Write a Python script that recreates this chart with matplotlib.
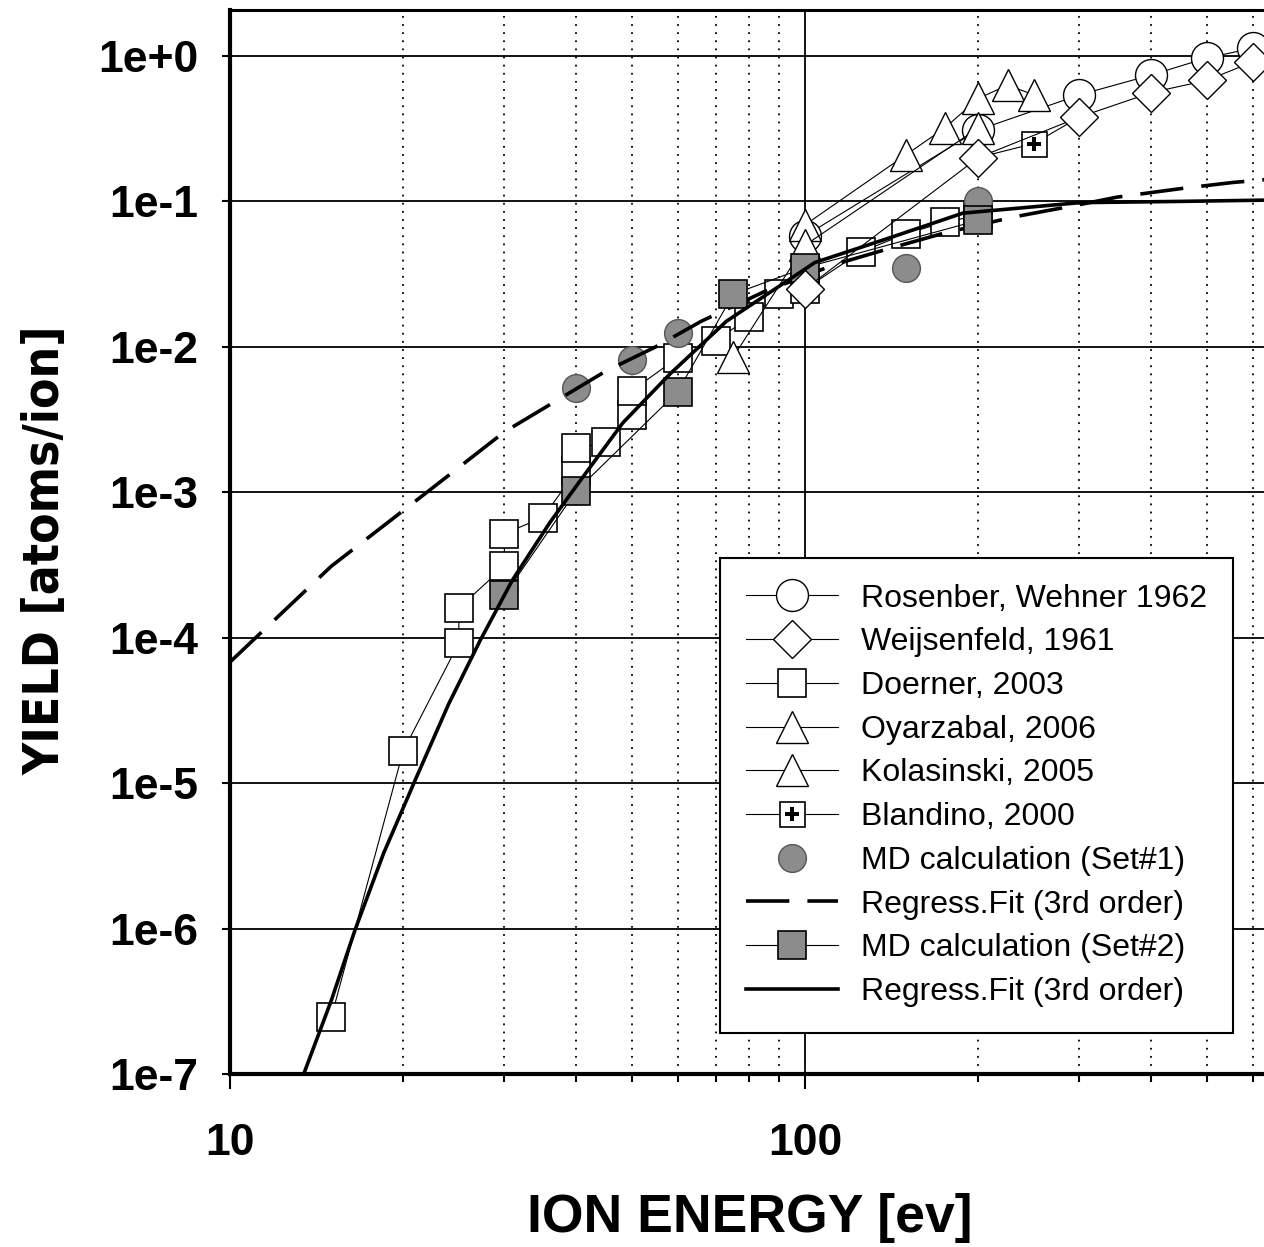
import matplotlib
matplotlib.use("Agg")
import matplotlib.pyplot as plt
from matplotlib import font_manager as fm
from matplotlib.legend_handler import HandlerTuple
from matplotlib.ticker import FixedLocator, NullFormatter

plt.rcParams['font.family'] = ['Liberation Sans', 'DejaVu Sans']

e_rosenberg = [100, 200, 300, 400, 500, 600]
y_rosenberg = [0.058, 0.31, 0.54, 0.74, 0.97, 1.13]

e_weijsenfeld = [100, 200, 300, 400, 500, 600]
y_weijsenfeld = [0.025, 0.20, 0.38, 0.56, 0.68, 0.91]

e_doerner = [15, 20, 25, 25, 30, 30, 35, 40, 40, 45, 50, 50, 60, 70, 80, 90, 100, 125, 150, 175, 200]
y_doerner = [2.45e-7, 1.66e-5, 9.2e-5, 1.6e-4, 3.1e-4, 5.2e-4, 6.7e-4, 1.4e-3, 2.0e-3, 2.2e-3,
             3.4e-3, 5.0e-3, 8.4e-3, 0.011, 0.016, 0.023, 0.025, 0.045, 0.060, 0.072, 0.080]

e_oyarzabal = [100, 150, 175, 200, 225, 250]
y_oyarzabal = [0.069, 0.21, 0.32, 0.51, 0.63, 0.54]

e_kolasinski = [75, 100, 200]
y_kolasinski = [0.0085, 0.05, 0.32]

# only the 250 eV marker is visible, the others sit behind the diamonds
e_blandino = [200, 250, 300]
y_blandino = [0.20, 0.25, 0.38]

e_md1 = [40, 50, 60, 150, 200]
y_md1 = [0.0052, 0.0081, 0.0125, 0.035, 0.10]

e_md2 = [30, 40, 60, 75, 100, 200]
y_md2 = [1.96e-4, 1.02e-3, 4.9e-3, 0.023, 0.035, 0.074]

# regression curves, sampled along the drawn lines
e_fit1 = [10, 15, 22, 30, 45, 55, 66, 85, 113, 139, 173, 230, 300, 349, 454, 555, 630]
y_fit1 = [6.8e-5, 3.1e-4, 1.0e-3, 2.6e-3, 6.8e-3, 1.0e-2, 1.5e-2, 2.4e-2, 3.7e-2, 4.7e-2,
          6.0e-2, 7.8e-2, 9.5e-2, 0.107, 0.123, 0.135, 0.141]

e_fit2 = [13.3, 15, 16.5, 18.5, 21.1, 24, 27.2, 31, 36, 41, 48.2, 58.2, 73, 104, 140, 188, 300, 450, 630]
y_fit2 = [9e-8, 3.2e-7, 9.8e-7, 3.3e-6, 1.1e-5, 3.5e-5, 9.5e-5, 2.5e-4, 6.2e-4, 1.26e-3,
          3.0e-3, 6.5e-3, 1.5e-2, 3.8e-2, 5.6e-2, 8.3e-2, 9.8e-2, 0.100, 0.102]

y_ticks = [1e-7, 1e-6, 1e-5, 1e-4, 1e-3, 1e-2, 1e-1, 1e0]
y_tick_labels = ['1e-7', '1e-6', '1e-5', '1e-4', '1e-3', '1e-2', '1e-1', '1e+0']
x_ticks = [10, 100]
x_tick_labels = ['10', '100']
x_minor = [20, 30, 40, 50, 60, 70, 80, 90, 200, 300, 400, 500, 600]

gray = '#8c8c8c'
thin = 0.8

fig = plt.figure(figsize=(12.64, 12.47), dpi=100)
ax = fig.add_axes([230 / 1264, 1 - 1074 / 1247, 1 - 230 / 1264, 1064 / 1247])
ax.set_xscale('log')
ax.set_yscale('log')
ax.set_xlim(10, 628)
ax.set_ylim(1e-7, 2.07)

l_ros, = ax.plot(e_rosenberg, y_rosenberg, '-o', color='black', lw=thin, ms=23,
                 mfc='white', mec='black', mew=1.0)
l_wei, = ax.plot(e_weijsenfeld, y_weijsenfeld, '-D', color='black', lw=thin, ms=19,
                 mfc='white', mec='black', mew=1.0, zorder=2.2)
l_doe, = ax.plot(e_doerner, y_doerner, '-s', color='black', lw=thin, ms=20,
                 mfc='white', mec='black', mew=1.2)
l_oya, = ax.plot(e_oyarzabal, y_oyarzabal, '-^', color='black', lw=thin, ms=23,
                 mfc='white', mec='black', mew=1.0)
l_kol, = ax.plot(e_kolasinski, y_kolasinski, '-^', color='black', lw=thin, ms=23,
                 mfc='white', mec='black', mew=1.0)
l_bla, = ax.plot(e_blandino, y_blandino, '-s', color='black', lw=thin, ms=18,
                 mfc='white', mec='black', mew=1.2, markevery=[1])
l_bla_p, = ax.plot(e_blandino, y_blandino, 'P', color='black', ls='none', ms=10, mew=0,
                   markevery=[1])
l_md1, = ax.plot(e_md1, y_md1, 'o', color=gray, ms=20, mec='#555555', mew=1.0, ls='none')
l_fit1, = ax.plot(e_fit1, y_fit1, color='black', lw=2.6, dashes=(12, 5))
l_md2, = ax.plot(e_md2, y_md2, '-s', color='black', lw=thin, ms=20,
                 mfc=gray, mec='black', mew=1.2)
l_fit2, = ax.plot(e_fit2, y_fit2, color='black', lw=2.6)

# axes look
for side in ['left', 'bottom']:
    ax.spines[side].set_linewidth(3.0)
ax.spines['top'].set_linewidth(2.2)
ax.spines['right'].set_visible(False)

ax.yaxis.set_major_locator(FixedLocator(y_ticks))
ax.yaxis.set_minor_locator(FixedLocator([]))
ax.set_yticklabels(y_tick_labels)
ax.xaxis.set_major_locator(FixedLocator(x_ticks))
ax.xaxis.set_minor_locator(FixedLocator(x_minor))
ax.xaxis.set_minor_formatter(NullFormatter())
ax.set_xticklabels(x_tick_labels)

ax.tick_params(axis='y', which='major', direction='out', length=6, width=1.5,
               labelsize=32, pad=17)
ax.tick_params(axis='x', which='major', direction='out', length=11, width=1.5,
               labelsize=32, pad=24)
ax.tick_params(axis='x', which='minor', direction='out', length=6, width=1.5)
for lab in ax.get_xticklabels() + ax.get_yticklabels():
    lab.set_fontweight('bold')

ax.grid(True, which='major', axis='both', color='black', lw=1.3)
ax.grid(True, which='minor', axis='x', color='black', lw=1.3, linestyle=(0, (1, 3.5)))
ax.set_axisbelow(True)

fig.text(0.593, 0.023, 'ION ENERGY [ev]', ha='center', va='center',
         fontsize=38.5, fontweight='bold')

# the y label is set in a narrow bold face; use a condensed one if there is one
narrow = None
for f in fm.fontManager.ttflist:
    if f.stretch in ('condensed', 'semi-condensed', 'extra-condensed') and f.style == 'normal' \
            and f.weight in ('bold', 700, 'heavy', 800):
        if narrow is None or 'Liberation' in f.name or 'Noto Sans' == f.name:
            narrow = f
if narrow is not None:
    ylab_font = fm.FontProperties(fname=narrow.fname, size=45)
else:
    ylab_font = fm.FontProperties(family='Liberation Sans', weight='bold', size=45)
ylab = fig.text(45 / 1264, 1 - 550 / 1247, 'YIELD [atoms/ion]', ha='center', va='center',
                rotation=90, fontproperties=ylab_font)
fig.canvas.draw()
length = ylab.get_window_extent().height
ylab.set_fontsize(45 * 450 / length)

handles = [l_ros, l_wei, l_doe, l_oya, l_kol, (l_bla, l_bla_p), l_md1, l_fit1, l_md2, l_fit2]
labels = ['Rosenber, Wehner 1962', 'Weijsenfeld, 1961', 'Doerner, 2003', 'Oyarzabal, 2006',
          'Kolasinski, 2005', 'Blandino, 2000', 'MD calculation (Set#1)',
          'Regress.Fit (3rd order)', 'MD calculation (Set#2)', 'Regress.Fit (3rd order)']
leg = ax.legend(handles, labels, loc='upper left', bbox_to_anchor=(0.474, 0.485),
                borderaxespad=0, fontsize=23, handlelength=2.9, handletextpad=0.72,
                labelspacing=0.43, borderpad=0.8, fancybox=False, framealpha=1,
                edgecolor='black', handler_map={tuple: HandlerTuple(ndivide=1)})
leg.get_frame().set_linewidth(1.5)

fig.savefig('out.png', dpi=100)
